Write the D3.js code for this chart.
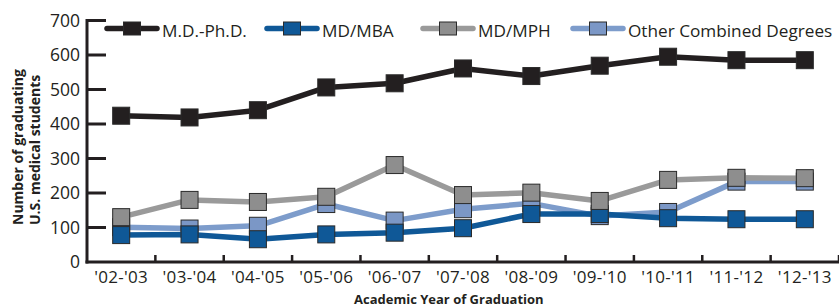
<!DOCTYPE html>
<html>
<head>
<meta charset="utf-8">
<script src="https://cdn.jsdelivr.net/npm/d3@7"></script>
<style>
  html, body { margin: 0; padding: 0; background: #fff; }
  svg { display: block; }
  text { font-family: "Open Sans", "Noto Sans", sans-serif; fill: #231f20; }
</style>
</head>
<body>
<svg id="chart" width="839" height="308"></svg>
<script>
const categories = ["'02-'03", "'03-'04", "'04-'05", "'05-'06", "'06-'07", "'07-'08", "'08-'09", "'09-'10", "'10-'11", "'11-'12", "'12-'13"];
const mdPhd   = [424, 419, 440, 506, 518, 561, 539, 569, 595, 585, 585];
const mdMba   = [78, 80, 66, 80, 85, 98, 139, 139, 127, 124, 124];
const mdMph   = [130, 180, 174, 189, 281, 194, 201, 177, 238, 244, 243];
const otherCombined = [101, 97, 105, 168, 120, 153, 170, 133, 145, 233, 233];
const yTicks = [0, 100, 200, 300, 400, 500, 600, 700];
const seriesNames = ["M.D.-Ph.D.", "MD/MBA", "MD/MPH", "Other Combined Degrees"];

const series = [
  { name: seriesNames[0], values: mdPhd, line: "#231f20", fill: "#231f20" },
  { name: seriesNames[1], values: mdMba, line: "#0f5897", fill: "#0f5897" },
  { name: seriesNames[2], values: mdMph, line: "#9a9a9a", fill: "#8e8e8e" },
  { name: seriesNames[3], values: otherCombined, line: "#7d9ccb", fill: "#7b97c6" }
];

const svg = d3.select("#chart");
const x0 = 87, x1 = 839, yBottom = 262, yTop = 20.5;

const x = d3.scaleBand().domain(categories).range([x0, x1]).padding(0);
const y = d3.scaleLinear().domain([0, 700]).range([yBottom, yTop]);

// Y axis
const yAxis = svg.append("g");
yAxis.append("line").attr("x1", x0).attr("x2", x0).attr("y1", yBottom + 1.5).attr("y2", y(700) - 1.5)
  .attr("stroke", "#231f20").attr("stroke-width", 3);
yAxis.selectAll("line.tick").data(yTicks.filter(d => d > 0)).enter().append("line")
  .attr("class", "tick")
  .attr("x1", x0).attr("x2", x0 + 19)
  .attr("y1", d => y(d)).attr("y2", d => y(d))
  .attr("stroke", "#231f20").attr("stroke-width", 3);
yAxis.selectAll("text").data(yTicks).enter().append("text")
  .attr("x", 80).attr("y", d => y(d)).attr("dy", "0.36em")
  .attr("text-anchor", "end").style("font-size", "17.5px")
  .text(d => d);

// X axis
const xAxis = svg.append("g");
xAxis.append("line").attr("x1", x0 - 1.5).attr("x2", x1).attr("y1", yBottom).attr("y2", yBottom)
  .attr("stroke", "#231f20").attr("stroke-width", 3);
xAxis.selectAll("line.tick").data(categories).enter().append("line")
  .attr("class", "tick")
  .attr("x1", d => x(d) + x.bandwidth()).attr("x2", d => x(d) + x.bandwidth())
  .attr("y1", yBottom).attr("y2", yBottom - 7)
  .attr("stroke", "#231f20").attr("stroke-width", 2.5);
xAxis.selectAll("text").data(categories).enter().append("text")
  .attr("x", d => x(d) + x.bandwidth() / 2).attr("y", 283)
  .attr("text-anchor", "middle").style("font-size", "17px").style("letter-spacing", "0.3px")
  .text(d => d);

// Axis titles
svg.append("text").attr("x", 354).attr("y", 304)
  .style("font-size", "13px").style("font-weight", "bold")
  .text("Academic Year of Graduation");
const yt = svg.append("g").attr("transform", "translate(0,225) rotate(-90)");
yt.append("text").attr("x", 0).attr("y", 22.5)
  .style("font-size", "14px").style("font-weight", "bold").text("Number of graduating");
yt.append("text").attr("x", 0).attr("y", 40)
  .style("font-size", "14px").style("font-weight", "bold").text("U.S. medical students");

// Series (draw order: Other, MBA, MPH, PhD)
const drawOrder = [series[3], series[1], series[2], series[0]];
const lineGen = d3.line().x((d, i) => x(categories[i]) + x.bandwidth() / 2).y(d => y(d));
const ms = 17;
drawOrder.forEach(s => {
  const g = svg.append("g");
  g.append("path").datum(s.values).attr("d", lineGen)
    .attr("fill", "none").attr("stroke", s.line).attr("stroke-width", 5.5)
    .attr("stroke-linejoin", "round");
  g.selectAll("rect").data(s.values).enter().append("rect")
    .attr("x", (d, i) => x(categories[i]) + x.bandwidth() / 2 - ms / 2)
    .attr("y", d => y(d) - ms / 2)
    .attr("width", ms).attr("height", ms)
    .attr("fill", s.fill).attr("stroke", "#2a2a2a").attr("stroke-width", 1);
});

// Legend
const legendPos = [107, 267, 423, 573];
series.forEach((s, i) => {
  const lx = legendPos[i], ly = 28.5;
  const g = svg.append("g");
  g.append("line").attr("x1", lx).attr("x2", lx + 50).attr("y1", ly).attr("y2", ly)
    .attr("stroke", s.line).attr("stroke-width", 5.5).attr("stroke-linecap", "round");
  g.append("rect").attr("x", lx + 25 - 8.5).attr("y", ly - 6.5).attr("width", 17).attr("height", 13)
    .attr("fill", s.fill).attr("stroke", "#2a2a2a").attr("stroke-width", 1);
  g.append("text").attr("x", lx + 55).attr("y", 36.5).style("font-size", "17.2px")
    .text(s.name);
});
</script>
</body>
</html>
